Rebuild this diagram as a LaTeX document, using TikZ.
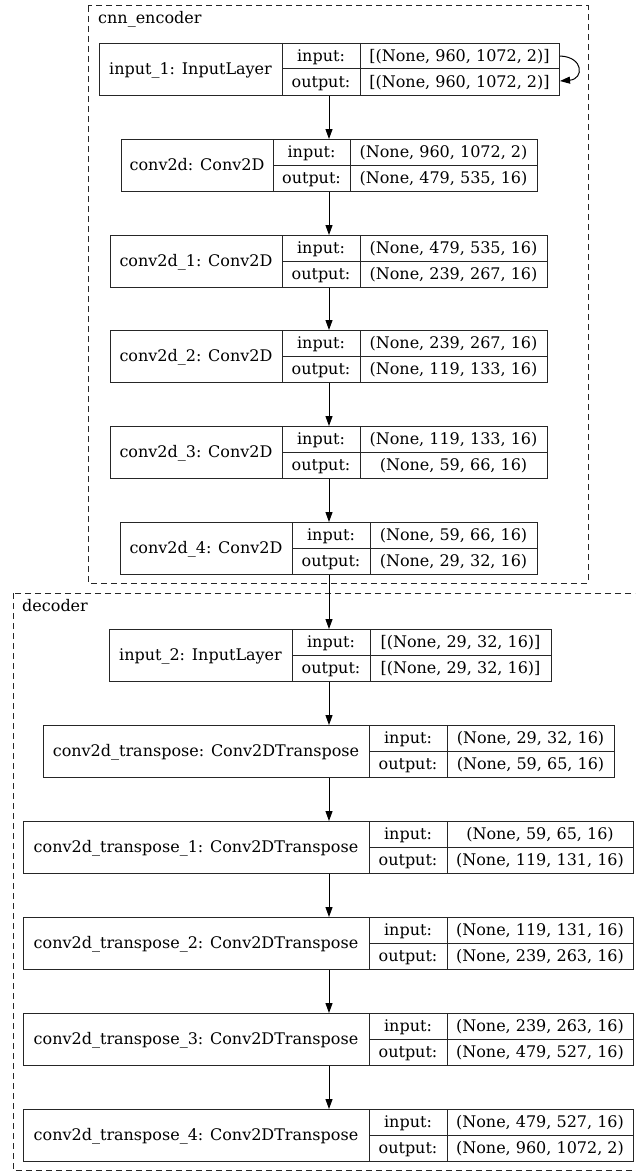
\documentclass[tikz,border=0pt]{standalone}
\usepackage{fontspec}
\setmainfont{DejaVu Serif}
\usetikzlibrary{arrows.meta,calc}
\tikzset{
  box/.style={draw=black!85, line width=1pt, inner sep=0pt, minimum height=52pt, anchor=north west},
  cell/.style={draw=black!85, line width=1pt},
  txt/.style={inner sep=0pt, font=\fontsize{16}{19}\selectfont, anchor=base},
  cluster/.style={draw=black!85, line width=1pt, dash pattern=on 6pt off 4pt},
  arr/.style={draw=black, line width=1pt, -{Triangle[length=10pt,width=7pt]}},
}
% #1 name, #2 top, #3 left, #4 col1, #5 col2, #6 right, #7 title, #8 input, #9 output
\newcommand\mylayer[9]{%
  \pgfmathsetmacro\mywd{#6-#3}%
  \node[box, minimum width=\mywd pt] (#1) at (#3,#2) {};
  \draw[cell] (#4,#2) -- (#4,{#2+52});
  \draw[cell] (#5,#2) -- (#5,{#2+52});
  \draw[cell] (#4,{#2+26}) -- (#6,{#2+26});
  \node[txt] (#1-t) at ({(#3+#4)/2},{#2+31.5}) {#7};
  \node[txt] (#1-il) at ({(#4+#5)/2},{#2+18.5}) {input:};
  \node[txt] (#1-ol) at ({(#4+#5)/2},{#2+44.5}) {output:};
  \node[txt] (#1-iv) at ({(#5+#6)/2},{#2+18.5}) {#8};
  \node[txt] (#1-ov) at ({(#5+#6)/2},{#2+44.5}) {#9};
}
\begin{document}
\begin{tikzpicture}[x=1pt,y=-1pt]
\clip (0,0) rectangle (635,1172);
\fill[white] (0,0) rectangle (635,1172);
% clusters
\draw[cluster] (88,6) rectangle (588,583);
\draw[cluster] (13,593) rectangle (645,1170);
\node[txt, anchor=base west] (enc) at (98,24) {cnn\_encoder};
\node[txt, anchor=base west] (dec) at (22,611) {decoder};
\coordinate (ax) at (329,0);
% encoder
\mylayer{i1}{43}{99}{282}{360}{559}{input\_1: InputLayer}{[(None, 960, 1072, 2)]}{[(None, 960, 1072, 2)]}
\mylayer{c0}{139}{121}{273}{350}{537}{conv2d: Conv2D}{(None, 960, 1072, 2)}{(None, 479, 535, 16)}
\mylayer{c1}{235}{110}{282}{360}{547}{conv2d\_1: Conv2D}{(None, 479, 535, 16)}{(None, 239, 267, 16)}
\mylayer{c2}{330}{110}{282}{360}{547}{conv2d\_2: Conv2D}{(None, 239, 267, 16)}{(None, 119, 133, 16)}
\mylayer{c3}{426}{110}{282}{360}{547}{conv2d\_3: Conv2D}{(None, 119, 133, 16)}{(None, 59, 66, 16)}
\mylayer{c4}{522}{120}{292}{370}{537}{conv2d\_4: Conv2D}{(None, 59, 66, 16)}{(None, 29, 32, 16)}
% decoder
\mylayer{i2}{629}{109}{292}{370}{551}{input\_2: InputLayer}{[(None, 29, 32, 16)]}{[(None, 29, 32, 16)]}
\mylayer{t0}{725}{43}{369}{447}{614}{conv2d\_transpose: Conv2DTranspose}{(None, 29, 32, 16)}{(None, 59, 65, 16)}
\mylayer{t1}{821}{23}{369}{447}{633}{conv2d\_transpose\_1: Conv2DTranspose}{(None, 59, 65, 16)}{(None, 119, 131, 16)}
\mylayer{t2}{917}{23}{369}{447}{633}{conv2d\_transpose\_2: Conv2DTranspose}{(None, 119, 131, 16)}{(None, 239, 263, 16)}
\mylayer{t3}{1013}{23}{369}{447}{633}{conv2d\_transpose\_3: Conv2DTranspose}{(None, 239, 263, 16)}{(None, 479, 527, 16)}
\mylayer{t4}{1109}{23}{369}{447}{633}{conv2d\_transpose\_4: Conv2DTranspose}{(None, 479, 527, 16)}{(None, 960, 1072, 2)}
% connectors
\foreach \a/\b in {i1/c0,c0/c1,c1/c2,c2/c3,c3/c4,c4/i2,i2/t0,t0/t1,t1/t2,t2/t3,t3/t4}{
  \draw[arr] (\a.south -| ax) -- (\b.north -| ax);
}
% self loop
\draw[arr] ([yshift=-13pt]i1.north east) .. controls ([xshift=24pt,yshift=-14pt]i1.north east) and ([xshift=24pt,yshift=-36pt]i1.north east) .. ([yshift=-38pt]i1.north east);
\end{tikzpicture}
\end{document}
